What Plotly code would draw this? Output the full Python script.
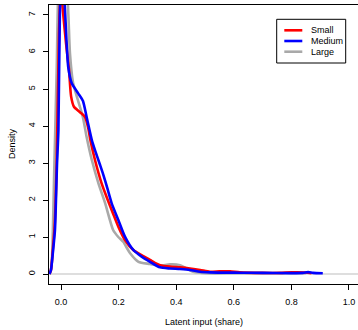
import plotly.graph_objects as go

# ---- data ----
small_x = [-0.040, -0.035, -0.029, -0.022, -0.015, -0.007, 0.000, 0.005, 0.018, 0.028, 0.035, 0.045,
           0.065, 0.083, 0.094, 0.102, 0.118, 0.141, 0.158, 0.181, 0.199, 0.222, 0.251, 0.280,
           0.309, 0.326, 0.344, 0.378, 0.413, 0.448, 0.483, 0.517, 0.550, 0.587, 0.621, 0.700,
           0.760, 0.800, 0.850, 0.870]
small_y = [0.00, 0.10, 0.60, 1.30, 3.00, 6.50, 8.00, 7.27, 6.20, 5.50, 4.80, 4.52,
           4.38, 4.25, 3.97, 3.62, 3.08, 2.45, 2.09, 1.63, 1.28, 0.92, 0.65, 0.51,
           0.38, 0.30, 0.24, 0.20, 0.18, 0.15, 0.11, 0.06, 0.07, 0.07, 0.045, 0.03,
           0.03, 0.045, 0.04, 0.02]

medium_x = [-0.040, -0.035, -0.028, -0.021, -0.014, -0.009, -0.004, 0.004, 0.013, 0.025, 0.037,
            0.059, 0.076, 0.089, 0.107, 0.120, 0.135, 0.147, 0.160, 0.176, 0.199, 0.222, 0.251,
            0.280, 0.309, 0.344, 0.378, 0.413, 0.448, 0.483, 0.517, 0.621, 0.700, 0.800, 0.840,
            0.858, 0.875, 0.909]
medium_y = [0.00, 0.10, 0.60, 1.19, 2.95, 3.89, 7.00, 8.40, 7.27, 5.60, 5.16,
            4.89, 4.68, 4.24, 3.62, 3.30, 2.96, 2.68, 2.34, 1.91, 1.46, 1.01, 0.65,
            0.47, 0.33, 0.18, 0.15, 0.135, 0.11, 0.06, 0.045, 0.035, 0.03, 0.025, 0.03,
            0.05, 0.03, 0.02]

large_x = [-0.040, -0.036, -0.032, -0.023, -0.015, -0.008, 0.005, 0.024, 0.031, 0.042, 0.076,
           0.089, 0.107, 0.130, 0.153, 0.181, 0.199, 0.216, 0.240, 0.269, 0.309, 0.344, 0.378,
           0.413, 0.436, 0.459, 0.505, 0.600, 0.700, 0.800, 0.850]
large_y = [0.00, 0.08, 0.30, 2.95, 5.50, 8.00, 9.00, 7.27, 5.97, 5.16, 4.24,
           3.70, 3.08, 2.45, 1.92, 1.19, 1.00, 0.87, 0.56, 0.33, 0.27, 0.22, 0.26,
           0.24, 0.15, 0.06, 0.02, 0.02, 0.02, 0.02, 0.02]

series_names = ["Small", "Medium", "Large"]
series_colors = ["#FF0000", "#0000FF", "#A9A9A9"]

x_ticks = [0.0, 0.2, 0.4, 0.6, 0.8, 1.0]
y_ticks = [0, 1, 2, 3, 4, 5, 6, 7]

# ---- layout geometry ----
W, H = 358, 330
L, T, R, B = 49, 5, 0, 46
X_RANGE = [-0.0417, 1.0313]
Y_RANGE = [-0.27, 7.27]
FONT = "Liberation Sans, Arial, Helvetica, sans-serif"

def px2paper_x(px):
    return (px - L) / (W - L - R)

def px2paper_y(py):
    return (H - B - py) / (H - T - B)

fig = go.Figure()

# draw order: Large, Small, Medium
for xs, ys, name, col in [(large_x, large_y, "Large", series_colors[2]),
                          (small_x, small_y, "Small", series_colors[0]),
                          (medium_x, medium_y, "Medium", series_colors[1])]:
    fig.add_trace(go.Scatter(x=xs, y=ys, mode="lines", name=name,
                             line=dict(color=col, width=2.6, shape="spline", smoothing=0.6),
                             showlegend=False))

shapes = []
# horizontal zero line
shapes.append(dict(type="line", xref="paper", yref="y", x0=0, x1=1, y0=0, y1=0,
                   line=dict(color="#D3D3D3", width=1.6), layer="below"))

# manual legend box
bx0, bx1, by0, by1 = 276.7, 345.7, 19.3, 63.0
shapes.append(dict(type="rect", xref="paper", yref="paper",
                   x0=px2paper_x(bx0), x1=px2paper_x(bx1),
                   y0=px2paper_y(by1), y1=px2paper_y(by0),
                   line=dict(color="black", width=1), fillcolor="white", layer="above"))
annotations = []
rows_py = [30.3, 41.0, 51.7]
for name, col, py in zip(series_names, series_colors, rows_py):
    shapes.append(dict(type="line", xref="paper", yref="paper",
                       x0=px2paper_x(284.3), x1=px2paper_x(302.3),
                       y0=px2paper_y(py), y1=px2paper_y(py),
                       line=dict(color=col, width=2.6), layer="above"))
    annotations.append(dict(text=name, xref="paper", yref="paper",
                            x=px2paper_x(309.3), y=px2paper_y(py),
                            xanchor="left", yanchor="middle", showarrow=False,
                            font=dict(size=9, color="black", family=FONT)))

# axis titles
annotations.append(dict(text="Latent input (share)", xref="paper", yref="paper",
                        x=px2paper_x(204), y=px2paper_y(322), xanchor="center", yanchor="middle",
                        showarrow=False, font=dict(size=9, color="black", family=FONT)))
annotations.append(dict(text="Density", xref="paper", yref="paper",
                        x=px2paper_x(12), y=px2paper_y(144), xanchor="center", yanchor="middle",
                        textangle=-90, showarrow=False,
                        font=dict(size=9, color="black", family=FONT)))

fig.update_layout(
    width=W, height=H,
    margin=dict(l=L, r=R, t=T, b=B, pad=0),
    paper_bgcolor="white", plot_bgcolor="white",
    font=dict(family=FONT, size=9, color="black"),
    shapes=shapes, annotations=annotations,
    showlegend=False,
    xaxis=dict(range=X_RANGE, tickvals=x_ticks, ticktext=[f"{v:.1f}" for v in x_ticks],
               showgrid=False, zeroline=False, showline=True, linecolor="black", linewidth=1,
               mirror=True, ticks="outside", ticklen=5, tickwidth=1, tickcolor="black",
               tickfont=dict(size=9, family=FONT, color="black"), ticklabelstandoff=4),
    yaxis=dict(range=Y_RANGE, tickvals=y_ticks, ticktext=[str(v) for v in y_ticks],
               showgrid=False, zeroline=False, showline=True, linecolor="black", linewidth=1,
               mirror=False, ticks="outside", ticklen=5, tickwidth=1, tickcolor="black",
               tickangle=-90, tickfont=dict(size=9, family=FONT, color="black"),
               ticklabelstandoff=4),
)

fig.write_html("out.html")
